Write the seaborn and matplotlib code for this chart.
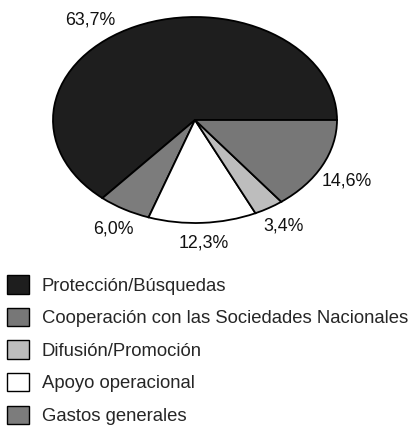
import numpy as np
import seaborn as sns
import matplotlib.pyplot as plt

# slices in drawing order (counter-clockwise from 3 o'clock)
categories = ["Protección/Búsquedas", "Gastos generales", "Apoyo operacional",
              "Difusión/Promoción", "Cooperación con las Sociedades Nacionales"]
shares = [63.7, 6.0, 12.3, 3.4, 14.6]
colors = ["#1e1e1e", "#7c7c7c", "#ffffff", "#bdbdbd", "#777777"]
legend_order = ["Protección/Búsquedas", "Cooperación con las Sociedades Nacionales",
                "Difusión/Promoción", "Apoyo operacional", "Gastos generales"]

sns.set_theme(style="white")
plt.rcParams["font.family"] = ["Liberation Sans", "DejaVu Sans"]

fig = plt.figure(figsize=(4.11, 4.28), dpi=100)
ax = fig.add_axes([53 / 411, 1 - 223 / 428, 284 / 411, 206 / 428])

labels = [f"{v:.1f}%".replace(".", ",") for v in shares]
wedges, texts = ax.pie(shares, colors=colors, startangle=0, labels=labels,
                       labeldistance=1.2,
                       wedgeprops=dict(edgecolor="black", linewidth=1.3),
                       textprops=dict(fontsize=12.8, color="#111111"))
ax.set_aspect("auto")
ax.set_xlim(-1, 1)
ax.set_ylim(-1, 1)

for t in texts:
    t.set_ha("center")
    t.set_va("center")

# a few labels are nudged off their mid angle in the original
nudge = {0: (127, 1.22), 1: (241.5, 1.2), 4: (331, 1.22)}
for i, (deg, r) in nudge.items():
    a = np.deg2rad(deg)
    texts[i].set_position((r * np.cos(a), r * np.sin(a)))

handles = [wedges[categories.index(c)] for c in legend_order]
leg = fig.legend(handles, legend_order, loc="upper left",
                 bbox_to_anchor=(0.0, 1 - 268 / 428), frameon=False,
                 fontsize=13.3, handlelength=1.15, handleheight=1.15,
                 handletextpad=0.7, labelspacing=0.71, borderaxespad=0,
                 borderpad=0.4)
for h in leg.legend_handles:
    h.set_linewidth(1.0)
    h.set_edgecolor("black")

fig.savefig("out.png", dpi=100)
